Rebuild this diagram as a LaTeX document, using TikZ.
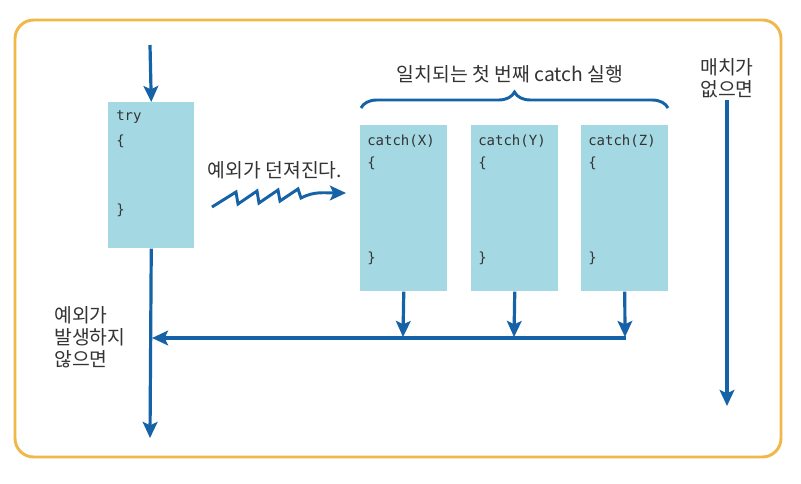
\documentclass[tikz,border=0pt]{standalone}
\usepackage{fontspec}
\setmainfont{Noto Sans CJK KR}
\newfontfamily\codefont{DejaVu Sans Mono}
\usetikzlibrary{arrows.meta,decorations.pathreplacing}
\definecolor{frameor}{HTML}{F0B848}
\definecolor{boxfill}{HTML}{A4D9E4}
\definecolor{flowblue}{HTML}{1563A6}
\definecolor{txt}{HTML}{333333}
\tikzset{
  codebox/.style={fill=boxfill,draw=none,anchor=north west,inner sep=0pt},
  flow/.style={draw=flowblue,line width=2.4pt,-{Stealth[length=12pt,width=11pt,inset=2.5pt]}},
  code/.style={anchor=west,inner sep=0pt,font=\codefont\fontsize{10.5}{12}\selectfont,text=txt},
  label/.style={inner sep=0pt,font=\fontsize{14.5}{16.5}\selectfont,text=txt,align=center},
}
\begin{document}
\begin{tikzpicture}[x=0.75pt,y=-0.75pt]
\useasboundingbox (0,0) rectangle (801,483);
\fill[white] (0,0) rectangle (801,483);
\draw[frameor,line width=2.2pt,rounded corners=14pt] (15,20) rectangle (781,457);
% try box
\node[codebox,minimum width=86*0.75pt,minimum height=146*0.75pt] (try) at (108,102) {};
\node[code] (trytxt) at (116,117) {try};
\node[code] (tryo) at (116,141) {\{};
\node[code] (tryc) at (116,210) {\}};
% catch boxes
\node[codebox,minimum width=87*0.75pt,minimum height=166*0.75pt] (cx) at (360,125) {};
\node[codebox,minimum width=87*0.75pt,minimum height=166*0.75pt] (cy) at (471,125) {};
\node[codebox,minimum width=87*0.75pt,minimum height=166*0.75pt] (cz) at (581,125) {};
\node[code] (cxt) at (367,141) {catch(X)};
\node[code] (cxo) at (367,163) {\{};
\node[code] (cxc) at (367,258) {\}};
\node[code] (cyt) at (478,141) {catch(Y)};
\node[code] (cyo) at (478,163) {\{};
\node[code] (cyc) at (478,258) {\}};
\node[code] (czt) at (588,141) {catch(Z)};
\node[code] (czo) at (588,163) {\{};
\node[code] (czc) at (588,258) {\}};
% main flow
\coordinate (start) at (150,45);
\coordinate (endp) at (150,438);
\draw[flow] (start) -- (try.north);
\draw[flow] (try.south) -- (endp);
% catch outputs
\coordinate (jx) at (403,337);
\coordinate (jy) at (514,337);
\coordinate (jz) at (625,337);
\coordinate (jl) at (152,338);
\draw[flow] (cx.south) -- (jx);
\draw[flow] (cy.south) -- (jy);
\draw[flow] (cz.south) -- (jz);
\draw[flow] (626,338) -- (jl);
% brace
\draw[flowblue,line width=2.2pt,decorate,decoration={brace,amplitude=12pt}] (361,108) -- (668,108);
\node[label] (bracelbl) at (510,74) {일치되는 첫 번째 catch 실행};
% no match
\node[label] (nomatch) at (727,78) {매치가\\없으면};
\coordinate (nm1) at (727,100);
\coordinate (nm2) at (727,406);
\draw[flow] (nm1) -- (nm2);
% thrown
\node[label] (thrown) at (275,170) {예외가 던져진다.};
\coordinate (zz0) at (212,207);
\coordinate (zz9) at (346,193);
\draw[flow,line width=2.2pt,line join=miter] (zz0) -- (236,192) -- (238,204) -- (257,191) -- (259,203) -- (278,190) -- (280,201) -- (298,189) -- (301,198) .. controls (314,191) and (325,193) .. (zz9);
% no exception
\node[label,align=left,anchor=west] (noexc) at (54,337) {예외가\\발생하지\\않으면};
\end{tikzpicture}
\end{document}
